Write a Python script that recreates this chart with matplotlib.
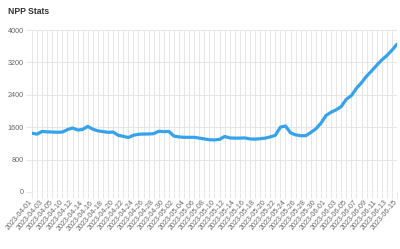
import matplotlib
matplotlib.use('Agg')
import matplotlib.pyplot as plt
import matplotlib.transforms as mtransforms
import pandas as pd

dates = (['2023-04-01', '2023-04-02', '2023-04-03', '2023-04-04', '2023-04-05', '2023-04-08']
         + [d.strftime('%Y-%m-%d') for d in pd.date_range('2023-04-10', '2023-06-15')])

values = [1450, 1430, 1495, 1485, 1480, 1475, 1480, 1540, 1580, 1530,
          1545, 1620, 1550, 1510, 1490, 1473, 1480, 1400, 1375, 1345,
          1400, 1425, 1430, 1432, 1440, 1500, 1490, 1495, 1380, 1360,
          1350, 1350, 1350, 1330, 1310, 1290, 1285, 1300, 1370, 1335,
          1330, 1330, 1335, 1310, 1305, 1315, 1330, 1360, 1400, 1600,
          1630, 1460, 1410, 1390, 1390, 1470, 1560, 1700, 1890, 1970,
          2030, 2110, 2290, 2380, 2560, 2700, 2860, 2990, 3130, 3260,
          3370, 3500, 3650]

y_ticks = [0, 800, 1600, 2400, 3200, 4000]

plt.rcParams['font.family'] = ['Liberation Sans', 'DejaVu Sans']

fig = plt.figure(figsize=(4, 2.49), dpi=100)
ax = fig.add_axes([0.08, 0.229, 0.9125, 0.6505])

x = list(range(len(dates)))
ax.plot(x, values, color='#36a2eb', lw=2.3, solid_joinstyle='round',
        solid_capstyle='round', zorder=3)

grid = '#e6e6e6'
ax.set_xlim(0, len(dates) - 1)
ax.set_ylim(0, 4000)
ax.set_yticks(y_ticks)
ax.set_yticklabels([str(v) for v in y_ticks])
ax.set_xticks(x)
ax.set_xticklabels([d if i % 2 == 0 else '' for i, d in enumerate(dates)],
                   rotation=50, ha='right', rotation_mode='anchor')
ax.grid(True, color=grid, lw=0.7)
ax.set_axisbelow(True)
for s in ax.spines.values():
    s.set_visible(False)
ax.tick_params(axis='x', length=4, color=grid, width=0.7, labelsize=5.2,
               labelcolor='#666666', pad=1)
ax.tick_params(axis='y', length=4, color=grid, width=0.7, labelsize=5.2,
               labelcolor='#666666', pad=2)
ax.axhline(0, color='#d0d0d0', lw=0.8, zorder=1)

# nudge the rotated date labels a little left so the last one fits
shift = mtransforms.ScaledTranslation(-3 / 100, 0, fig.dpi_scale_trans)
for lbl in ax.get_xticklabels():
    lbl.set_transform(lbl.get_transform() + shift)

fig.text(0.02, 0.952, 'NPP Stats', fontsize=6.2, fontweight='bold',
         color='#333333', va='center', ha='left')

fig.savefig('out.png', dpi=100)
